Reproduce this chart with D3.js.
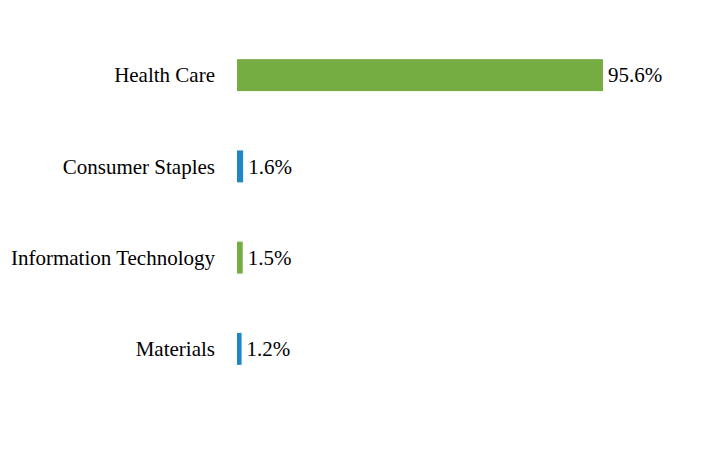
<!DOCTYPE html>
<html>
<head>
<meta charset="utf-8">
<script src="https://cdn.jsdelivr.net/npm/d3@7"></script>
<style>
  body { margin: 0; background: #fff; }
  text { font-family: "Liberation Serif", "Times New Roman", serif; font-size: 21px; fill: #000; }
</style>
</head>
<body>
<svg class="chart"></svg>
<script>
var width = 704, height = 468;

var sectors = ["Health Care", "Consumer Staples", "Information Technology", "Materials"];
var weights = [95.6, 1.6, 1.5, 1.2];
var colors = ["#76ad43", "#1f86c8", "#76ad43", "#1f86c8"];

var chart = d3.select(".chart")
    .attr("width", width)
    .attr("height", height);

var x = d3.scaleLinear()
    .domain([0, 95.6])
    .range([237, 603]);

var y = d3.scaleBand()
    .domain(sectors)
    .range([29.5, 394.5])
    .paddingInner(0.65)
    .paddingOuter(0.325);

var rows = chart.selectAll("g.row")
    .data(sectors)
    .enter().append("g")
    .attr("class", "row");

rows.append("rect")
    .attr("x", x(0))
    .attr("y", function(d) { return y(d); })
    .attr("width", function(d, i) { return x(weights[i]) - x(0); })
    .attr("height", y.bandwidth())
    .attr("fill", function(d, i) { return colors[i]; });

rows.append("text")
    .attr("x", x(0) - 22)
    .attr("y", function(d) { return y(d) + y.bandwidth() / 2; })
    .attr("dy", "0.35em")
    .attr("text-anchor", "end")
    .text(function(d) { return d; });

rows.append("text")
    .attr("x", function(d, i) { return x(weights[i]) + 5; })
    .attr("y", function(d) { return y(d) + y.bandwidth() / 2; })
    .attr("dy", "0.35em")
    .text(function(d, i) { return weights[i].toFixed(1) + "%"; });
</script>
</body>
</html>
